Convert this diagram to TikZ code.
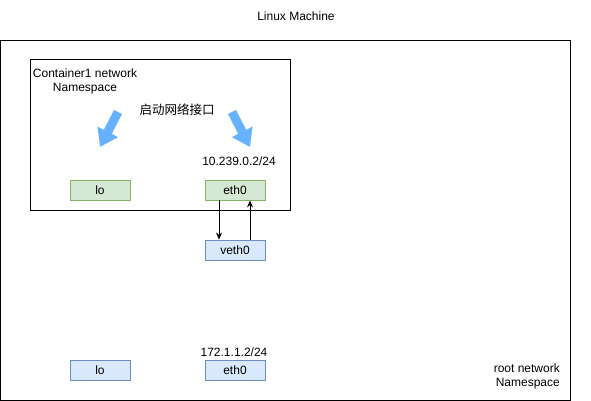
\documentclass[tikz,border=0pt]{standalone}
\usepackage{fontspec}
\setmainfont{Liberation Sans}
\newfontfamily\cjkfont{Noto Sans CJK SC}
\usetikzlibrary{arrows.meta}

\definecolor{nsgreenfill}{HTML}{D5E8D4}
\definecolor{nsgreenline}{HTML}{82B366}
\definecolor{nsbluefill}{HTML}{DAE8FC}
\definecolor{nsblueline}{HTML}{6C8EBF}
\definecolor{hintblue}{HTML}{66B2FF}

\begin{document}
\begin{tikzpicture}[x=1pt, y=-1pt,
    every node/.style={font=\fontsize{12}{14}\selectfont},
    frame/.style={draw, line width=1pt, inner sep=0pt},
    ifgreen/.style={draw=nsgreenline, fill=nsgreenfill, line width=0.9pt,
      minimum width=60pt, minimum height=20pt, inner sep=0pt},
    ifblue/.style={draw=nsblueline, fill=nsbluefill, line width=0.9pt,
      minimum width=60pt, minimum height=20pt, inner sep=0pt},
    link/.style={line width=0.9pt, -{Stealth[length=7pt, width=6pt]}},
    hint/.style={hintblue, line width=9pt, -{Triangle[length=17pt, width=22pt]}}]
  \useasboundingbox (0,0) rectangle (591,401);

  % the machine and the container namespace
  \node (machinelabel) at (296,16) {Linux Machine};
  \node[frame, minimum width=570pt, minimum height=359pt] (machine) at (285.5,220.5) {};
  \node[frame, minimum width=260pt, minimum height=150pt] (container) at (160,135) {};
  \node[align=center, inner sep=0pt] (containerlabel) at (85,81) {Container1 network\\Namespace};
  \node[align=right, anchor=east, inner sep=0pt] (rootlabel) at (560,376) {root network\\Namespace};

  % interfaces inside the container
  \node[ifgreen] (clo) at (100,190) {lo};
  \node[ifgreen] (ceth) at (235,190) {eth0};
  \node (cip) at (239,161) {10.239.0.2/24};
  \node (start) at (177,110) {\cjkfont\fontsize{12.5}{14}\selectfont 启动网络接口};

  % the blue hints
  \coordinate (hintlfrom) at (118,112);
  \coordinate (hintlto) at (100,147);
  \coordinate (hintrfrom) at (232,112);
  \coordinate (hintrto) at (250,147);
  \draw[hint] (hintlfrom) -- (hintlto);
  \draw[hint] (hintrfrom) -- (hintrto);

  % the veth pair
  \node[ifblue] (veth) at (235,250) {veth0};
  \draw[link] ([xshift=-16pt]ceth.south) -- ([xshift=-16pt]veth.north);
  \draw[link] ([xshift=15pt]veth.north) -- ([xshift=15pt]ceth.south);

  % interfaces of the root namespace
  \node[ifblue] (rlo) at (100,370) {lo};
  \node[ifblue] (reth) at (235,370) {eth0};
  \node (rip) at (234,352) {172.1.1.2/24};
\end{tikzpicture}
\end{document}
